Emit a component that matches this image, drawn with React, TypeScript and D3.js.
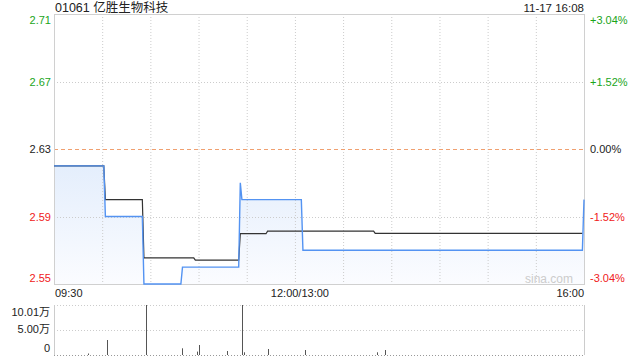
import React from "react";
import * as d3 from "d3";

// ---- data ----
const title = "01061 亿胜生物科技";
const stamp = "11-17 16:08";
const prevClose = 2.63;

const priceTimes = ["09:30", "10:01", "10:02", "10:25", "10:26", "10:49", "10:50", "11:25", "11:26", "11:27", "13:04", "13:05", "15:59", "16:00"];
const priceValues = [2.62, 2.62, 2.59, 2.59, 2.55, 2.55, 2.56, 2.56, 2.61, 2.60, 2.60, 2.57, 2.57, 2.60];

const avgTimes = ["09:30", "10:01", "10:02", "10:25", "10:26", "10:57", "10:58", "11:25", "11:26", "11:42", "11:43", "13:49", "13:50", "15:59"];
const avgValues = [2.62, 2.62, 2.60, 2.60, 2.5655, 2.5655, 2.5641, 2.5641, 2.5798, 2.5798, 2.5813, 2.5813, 2.58, 2.58];

const volTimes = ["09:51", "10:03", "10:27", "10:50", "10:59", "11:00", "11:18", "11:27", "11:28", "11:43", "13:06", "13:51", "13:56"];
const volValues = [0.3, 3.0, 10.01, 1.34, 0.68, 2.0, 0.8, 10.01, 0.54, 1.2, 1.0, 0.54, 1.0];

const priceTicks = [2.71, 2.67, 2.63, 2.59, 2.55];
const pctTicks = ["+3.04%", "+1.52%", "0.00%", "-1.52%", "-3.04%"];
const volTicks = [10.01, 5.0, 0];
const volTickLabels = ["10.01万", "5.00万", "0"];
const timeLabels = ["09:30", "12:00/13:00", "16:00"];

// ---- helpers ----
function minuteIndex(t: string): number {
  const [h, m] = t.split(":").map(Number);
  const tot = h * 60 + m;
  if (tot <= 12 * 60) return tot - (9 * 60 + 30);
  return 150 + (tot - 13 * 60);
}

const FONT = "'Liberation Sans', Arial, 'Noto Sans CJK SC', sans-serif";
const GREEN = "#1aa51a";
const RED = "#f02020";

export default function App() {
  const L = 54, R = 584, T = 14, B = 284;
  const VT = 305, VB = 355;
  const x = d3.scaleLinear().domain([0, 330]).range([L, R]);
  const y = d3.scaleLinear().domain([2.55, 2.71]).range([B, T]);
  const vy = d3.scaleLinear().domain([0, 10.01]).range([VB, VT]);

  const price = priceTimes.map((t, i) => ({ m: minuteIndex(t), v: priceValues[i] }));
  const avg = avgTimes.map((t, i) => ({ m: minuteIndex(t), v: avgValues[i] }));
  const vols = volTimes.map((t, i) => ({ m: minuteIndex(t), v: volValues[i] }));

  const line = d3.line<{ m: number; v: number }>().x(d => x(d.m)).y(d => y(d.v));
  const area = d3.area<{ m: number; v: number }>().x(d => x(d.m)).y0(B).y1(d => y(d.v));

  const vGrid = d3.range(1, 11).map(i => i * 30);
  const labelY = [20, 82, 149, 217, 278];
  const tickColor = (v: number) => (v > prevClose + 1e-9 ? GREEN : v < prevClose - 1e-9 ? RED : "#222");

  return (
    <svg width={640} height={360} style={{ position: "absolute", left: 0, top: 0, background: "#fff" }} fontFamily={FONT}>
      <defs>
        <linearGradient id="fillg" x1="0" y1="0" x2="0" y2="1">
          <stop offset="0%" stopColor="#e4eefc" />
          <stop offset="100%" stopColor="#fbfcff" />
        </linearGradient>
      </defs>
      {/* title */}
      <text x={55} y={12} fontSize={12.5} fill="#222">{title}</text>
      <text x={584} y={12} fontSize={11.5} fill="#222" textAnchor="end">{stamp}</text>

      {/* area fill */}
      <path d={area(price) || ""} fill="url(#fillg)" />

      {/* grid */}
      {vGrid.map(m => (
        <line key={m} x1={x(m) + 0.5} x2={x(m) + 0.5} y1={T} y2={B} stroke="#ccc" strokeDasharray="1,2" />
      ))}
      {priceTicks.filter(v => v !== 2.71 && v !== 2.55).map(v => (
        <line key={v} x1={L} x2={R} y1={Math.round(y(v)) + 0.5} y2={Math.round(y(v)) + 0.5}
          stroke={v === prevClose ? "#f0a070" : "#ccc"} strokeDasharray={v === prevClose ? "4,3" : "1,2"} />
      ))}
      {/* border */}
      <rect x={L + 0.5} y={T + 0.5} width={R - L} height={B - T} fill="none" stroke="#d0d0d0" />

      {/* lines */}
      <path d={line(avg) || ""} fill="none" stroke="#333" strokeWidth={1.2} />
      <path d={line(price) || ""} fill="none" stroke="#5393f2" strokeWidth={1.4} />

      {/* watermark */}
      <text x={573} y={283} fontSize={12} fill="#ccc" textAnchor="end">sina.com</text>

      {/* price labels */}
      {priceTicks.map((v, i) => (
        <text key={v} x={51} y={labelY[i] + 4} fontSize={11} fill={tickColor(v)} textAnchor="end">{v.toFixed(2)}</text>
      ))}
      {pctTicks.map((s, i) => (
        <text key={s} x={590} y={labelY[i] + 4} fontSize={11} fill={tickColor(priceTicks[i])}>{s}</text>
      ))}

      {/* time labels */}
      <text x={55} y={297} fontSize={11} fill="#222">{timeLabels[0]}</text>
      <text x={x(150) + 5} y={297} fontSize={11} fill="#222" textAnchor="middle">{timeLabels[1]}</text>
      <text x={584} y={297} fontSize={11} fill="#222" textAnchor="end">{timeLabels[2]}</text>

      {/* volume panel */}
      {volTicks.map(v => (
        <line key={v} x1={L} x2={R} y1={Math.round(vy(v)) + 0.5} y2={Math.round(vy(v)) + 0.5}
          stroke={v === 0 ? "#999" : "#ccc"} strokeDasharray="1,2" />
      ))}
      <line x1={L + 0.5} x2={L + 0.5} y1={VT} y2={VB} stroke="#ccc" />
      <line x1={R + 0.5} x2={R + 0.5} y1={VT} y2={VB} stroke="#ccc" />
      {vols.map((d, i) => (
        <line key={i} x1={Math.round(x(d.m)) + 0.5} x2={Math.round(x(d.m)) + 0.5} y1={VB} y2={vy(d.v)} stroke="#555" strokeWidth={1} />
      ))}
      {volTickLabels.map((s, i) => (
        <text key={s} x={50} y={[316, 333, 352][i]} fontSize={11} fill="#222" textAnchor="end">{s}</text>
      ))}
    </svg>
  );
}
